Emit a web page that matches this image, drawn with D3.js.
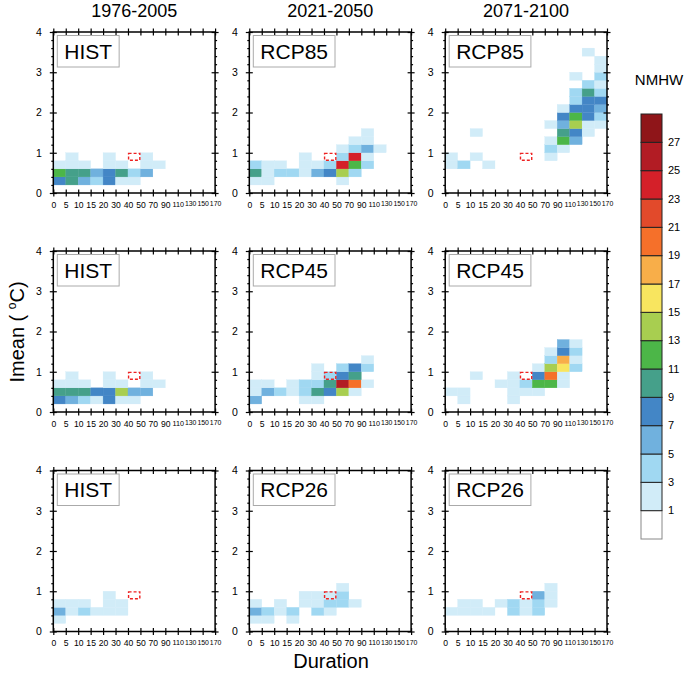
<!DOCTYPE html>
<html><head><meta charset="utf-8">
<script src="https://cdn.jsdelivr.net/npm/d3@7"></script>
<style>body{margin:0;background:#fff}svg{display:block;font-family:"Liberation Sans",Arial,Helvetica,sans-serif}</style>
</head><body><svg id="c" width="685" height="681"></svg>
<script>
// ---------- data ----------
const durationTicks = [0,5,10,15,20,30,40,50,70,90,110,130,150,170];
const imeanTicks = [0,1,2,3,4];
const periods = ["1976-2005","2021-2050","2071-2100"];
const levels = [1,3,5,7,9,11,13,15,17,19,21,23,25,27];
const levelColors = ["#ffffff","#d1ecf8","#a0d8f2","#70b1de","#4386c6","#45a08a","#4cb648","#a8ce50","#f8e55f","#f8ae49","#f5702a","#e24a2b","#d42029","#b21c24","#8f1519"];
const panelLabels = [["HIST","RCP85","RCP85"],["HIST","RCP45","RCP45"],["HIST","RCP26","RCP26"]];
const refBox = [40, 0.8]; // duration bin start, imean bin start

// [duration bin start, Imean bin start, NMHW]
const histA = [
 [0,.2,8],[5,.2,10],[10,.2,6],[15,.2,4],[20,.2,8],[30,.2,2],[40,.2,2],
 [0,.4,12],[5,.4,10],[10,.4,10],[15,.4,6],[20,.4,8],[30,.4,10],[40,.4,4],[50,.4,6],
 [0,.6,2],[5,.6,2],[10,.6,2],[20,.6,2],[30,.6,2],[50,.6,2],[70,.6,2],
 [5,.8,2],[20,.8,2],[50,.8,2]];
const rcp85Mid = [
 [0,.2,2],[5,.2,2],[50,.2,2],
 [0,.4,10],[5,.4,2],[10,.4,4],[15,.4,4],[20,.4,2],[30,.4,6],[40,.4,8],[50,.4,14],[70,.4,4],
 [0,.6,4],[5,.6,2],[10,.6,2],[20,.6,2],[30,.6,2],[40,.6,4],[50,.6,24],[70,.6,12],[90,.6,4],
 [20,.8,2],[50,.8,4],[70,.8,24],[90,.8,2],
 [50,1.0,2],[70,1.0,4],[90,1.0,6],[110,1.0,2],
 [70,1.2,2],[90,1.2,2],
 [90,1.4,2]];
const rcp85Late = [
 [0,.6,2],[5,.6,4],[15,.6,2],
 [0,.8,2],[10,.8,2],[70,.8,2],
 [10,1.4,2],
 [70,1.0,4],[90,1.0,2],
 [70,1.2,2],[90,1.2,12],[110,1.2,6],
 [90,1.4,10],[110,1.4,8],[130,1.4,2],
 [70,1.6,2],[90,1.6,6],[110,1.6,14],[130,1.6,2],[150,1.6,2],
 [90,1.8,8],[110,1.8,12],[130,1.8,8],[150,1.8,4],
 [90,2.0,2],[110,2.0,8],[130,2.0,8],[150,2.0,6],
 [110,2.2,4],[130,2.2,8],[150,2.2,8],
 [110,2.4,4],[130,2.4,10],[150,2.4,4],
 [130,2.6,4],[150,2.6,2],
 [110,2.8,2],[150,2.8,4],
 [150,3.0,2],[150,3.2,2],
 [130,3.4,2]];
const histB = [
 [0,.2,8],[5,.2,6],[10,.2,4],[15,.2,2],[20,.2,8],[30,.2,2],[40,.2,2],
 [0,.4,10],[5,.4,10],[10,.4,10],[15,.4,8],[20,.4,8],[30,.4,14],[40,.4,6],[50,.4,6],
 [0,.6,2],[5,.6,2],[10,.6,2],[20,.6,2],[30,.6,2],[50,.6,2],[70,.6,2],
 [5,.8,2],[20,.8,2],[50,.8,2]];
const rcp45Mid = [
 [0,.2,6],[20,.2,2],[30,.2,2],
 [0,.4,2],[5,.4,6],[10,.4,4],[15,.4,2],[20,.4,4],[30,.4,10],[40,.4,8],[50,.4,14],[70,.4,2],
 [0,.6,2],[5,.6,2],[15,.6,2],[20,.6,4],[30,.6,4],[40,.6,10],[50,.6,26],[70,.6,20],[90,.6,2],
 [30,.8,2],[40,.8,4],[50,.8,8],[70,.8,10],
 [30,1.0,2],[50,1.0,4],[70,1.0,8],[90,1.0,4],
 [90,1.2,2]];
const rcp45Late = [
 [5,.2,2],[30,.2,2],
 [0,.4,2],[5,.4,2],[30,.4,2],[40,.4,2],[50,.4,2],
 [20,.6,2],[30,.6,2],[40,.6,4],[50,.6,12],[70,.6,12],[90,.6,2],
 [10,.8,2],[30,.8,2],[50,.8,8],[70,.8,20],[90,.8,2],
 [50,1.0,2],[70,1.0,14],[90,1.0,16],[110,1.0,4],
 [70,1.2,4],[90,1.2,18],[110,1.2,2],
 [70,1.4,2],[90,1.4,8],[110,1.4,4],
 [90,1.6,6],[110,1.6,2]];
const histC = [
 [0,.2,2],
 [0,.4,6],[5,.4,2],[10,.4,4],[15,.4,2],[20,.4,2],[30,.4,2],
 [0,.6,2],[5,.6,2],[10,.6,2],[20,.6,2],[30,.6,2],
 [20,.8,2]];
const rcp26Mid = [
 [0,.2,2],[5,.2,2],[15,.2,2],
 [0,.4,6],[5,.4,4],[10,.4,2],[15,.4,4],[30,.4,4],[40,.4,2],
 [0,.6,2],[10,.6,2],[20,.6,2],[30,.6,2],[40,.6,4],[50,.6,4],[70,.6,2],
 [20,.8,2],[30,.8,2],[40,.8,2],[50,.8,4],
 [50,1.0,2]];
const rcp26Late = [
 [0,.4,2],[5,.4,2],[10,.4,2],[15,.4,2],[30,.4,4],[40,.4,2],[50,.4,4],
 [5,.6,2],[10,.6,2],[20,.6,2],[30,.6,4],[40,.6,2],[50,.6,4],[70,.6,2],
 [50,.8,6],[70,.8,2],
 [70,1.0,2]];
const panelData = [[histA,rcp85Mid,rcp85Late],[histB,rcp45Mid,rcp45Late],[histC,rcp26Mid,rcp26Late]];

// ---------- layout ----------
const svg = d3.select("#c");
const colLeft = [53.3, 249.3, 445.2], rowTop = [32, 251, 470.5];
const W = 161.8, H = 161;
const x = d3.scaleLinear().domain([0, durationTicks.length-1]).range([0, W]);
const y = d3.scaleLinear().domain([0, 4]).range([H, 0]);
const color = d3.scaleThreshold().domain(levels).range(levelColors);
const di = d => durationTicks.indexOf(d);
const dy = 0.2;

periods.forEach((p,c) => {
  svg.append("text").attr("x", colLeft[c]+W/2).attr("y", 17).attr("text-anchor","middle")
    .attr("font-size", 18).text(p);
});

panelData.forEach((row, r) => row.forEach((data, c) => {
  const g = svg.append("g").attr("transform", `translate(${colLeft[c]},${rowTop[r]})`);
  g.selectAll("rect.cell").data(data).join("rect").attr("class","cell")
    .attr("x", d => x(di(d[0]))).attr("width", d => x(di(d[0])+1)-x(di(d[0])))
    .attr("y", d => y(d[1]+dy)).attr("height", d => y(d[1])-y(d[1]+dy))
    .attr("fill", d => color(d[2])).attr("stroke", d => color(d[2])).attr("stroke-width", 0.3);
  // reference dashed box
  g.append("rect").attr("x", x(di(refBox[0]))+0.6).attr("width", x(di(refBox[0])+1)-x(di(refBox[0]))-1.2)
    .attr("y", y(refBox[1]+dy)+0.6).attr("height", y(refBox[1])-y(refBox[1]+dy)-1.2)
    .attr("fill","none").attr("stroke","#ee2222").attr("stroke-width",1.4).attr("stroke-dasharray","3,2");
  // axes
  const idx = d3.range(durationTicks.length);
  const minor = d3.range(0, 4.001, 0.2).filter(v => Math.abs(v - Math.round(v)) > 1e-6);
  const bx = g.append("g").attr("transform", `translate(0,${H})`)
    .call(d3.axisBottom(x).tickValues(idx).tickFormat(i => durationTicks[i]).tickSize(3.5).tickPadding(5));
  bx.selectAll("line").attr("y1", -3.5);
  const step = x(1) - x(0) - 0.9;
  bx.selectAll("text").attr("font-size", 8.6).attr("font-family", "Liberation Sans, Arial, sans-serif")
    .each(function() {
      const w = this.getComputedTextLength();
      if (w > step) d3.select(this).attr("font-size", 8.6 * step / w);
    });
  const tx = g.append("g").call(d3.axisTop(x).tickValues(idx).tickFormat("").tickSize(3.5));
  tx.selectAll("line").attr("y1", 3.5);
  const ly = g.append("g").call(d3.axisLeft(y).tickValues(imeanTicks).tickFormat(d3.format("d")).tickSize(3.5).tickPadding(8));
  ly.selectAll("line").attr("x1", 3.5);
  ly.selectAll("text").attr("font-size", 10.5).attr("font-family", "Liberation Sans, Arial, sans-serif");
  g.append("g").call(d3.axisLeft(y).tickValues(minor).tickFormat("").tickSize(2));
  const ry = g.append("g").attr("transform", `translate(${W},0)`).call(d3.axisRight(y).tickValues(imeanTicks).tickFormat("").tickSize(3.5));
  ry.selectAll("line").attr("x1", -3.5);
  g.append("g").attr("transform", `translate(${W},0)`).call(d3.axisRight(y).tickValues(minor).tickFormat("").tickSize(2));
  g.selectAll(".domain").remove();
  g.selectAll(".tick line").attr("stroke","#000").attr("stroke-width",1.2);
  g.append("rect").attr("width", W).attr("height", H).attr("fill","none").attr("stroke","#000").attr("stroke-width",1.5);
  // label box
  const lb = g.append("g");
  const t = lb.append("text").attr("x", 11).attr("y", 26.5).attr("font-size", 21).text(panelLabels[r][c]);
  const tw = t.node().getComputedTextLength();
  lb.insert("rect","text").attr("x", 4).attr("y", 3.5).attr("width", tw+14).attr("height", 31.5)
    .attr("fill","#fff").attr("stroke","#aaa").attr("stroke-width",1);
}));

// axis titles
svg.append("text").attr("x", 331).attr("y", 668).attr("text-anchor","middle").attr("font-size", 20).text("Duration");
const yl = svg.append("text").attr("transform","translate(24,332) rotate(-90)").attr("text-anchor","middle").attr("font-size", 20);
yl.append("tspan").text("Imean ( ");
yl.append("tspan").attr("dy", -8).attr("font-size", 12).text("o");
yl.append("tspan").attr("dy", 8).text("C)");

// colorbar
const cbX = 641, cbTop = 114, cbBot = 539, cbW = 21;
const nb = levelColors.length;
const cy = d3.scaleLinear().domain([0, nb]).range([cbBot, cbTop]);
const cb = svg.append("g");
cb.selectAll("rect").data(levelColors).join("rect")
  .attr("x", cbX).attr("width", cbW)
  .attr("y", (d,i) => cy(i+1)).attr("height", (d,i) => cy(i)-cy(i+1))
  .attr("fill", d => d).attr("stroke", (d,i) => i===0 ? "#888" : "#222").attr("stroke-width", 1);
cb.selectAll("text").data(levels).join("text")
  .attr("x", cbX+cbW+6).attr("y", (d,i) => cy(i+1)+3.5).attr("font-size", 11).text(d => d);
svg.append("text").attr("x", 659).attr("y", 85).attr("text-anchor","middle").attr("font-size", 15).text("NMHW");
</script></body></html>
